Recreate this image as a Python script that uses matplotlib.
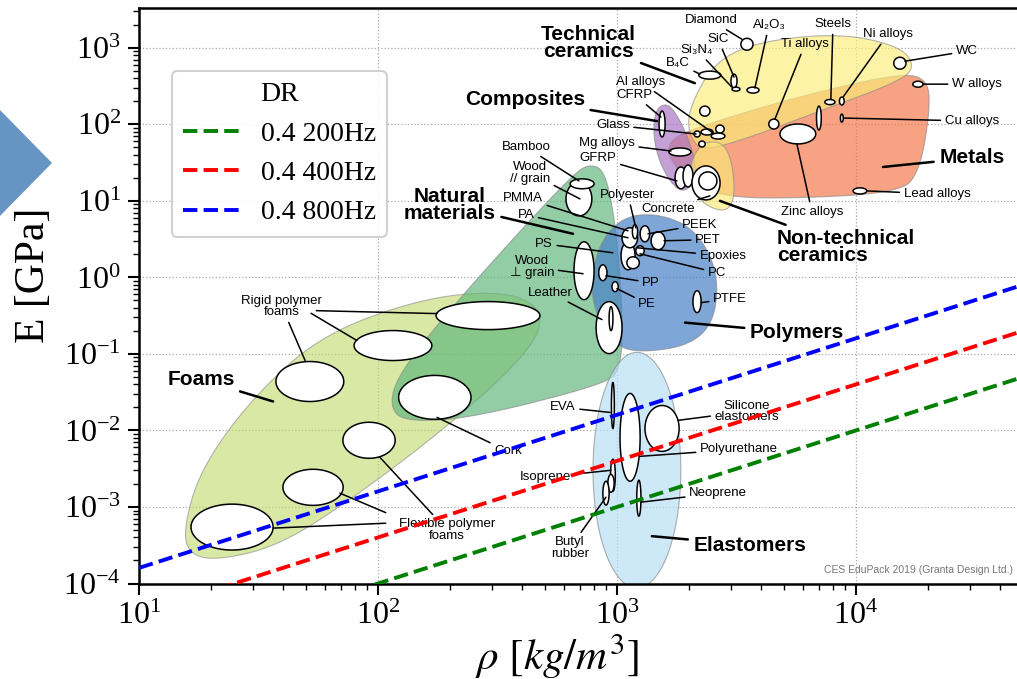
import numpy as np
import matplotlib.pyplot as plt
from matplotlib.patches import Polygon

plt.rcParams['font.family'] = 'serif'
plt.rcParams['font.serif'] = ['Liberation Serif', 'DejaVu Serif']
plt.rcParams['mathtext.fontset'] = 'stix'

SANS = ['Liberation Sans', 'DejaVu Sans']

# design-rule lines  E = k * rho   (E in GPa, rho in kg/m^3)
dr_labels = ['0.4 200Hz', '0.4 400Hz', '0.4 800Hz']
dr_k = [1.0e-6, 4.0e-6, 1.6e-5]
dr_colors = ['g', 'r', 'b']
rho_span = [10.0, 5.0e4]

# material family envelopes, vertices as (rho, E)
foams_env = [(15.3, 4.99e-4), (18.0, 3.02e-3), (29.1, 0.0247), (57.1, 0.174),
             (150, 0.527), (324, 0.671), (476, 0.428), (476, 0.174),
             (324, 0.045), (165, 7.43e-3), (76.4, 1.23e-3), (38.9, 3.18e-4),
             (21.8, 2.02e-4), (16.3, 2.35e-4)]
natural_env = [(771, 30.3), (891, 24.6), (982, 5.48), (1050, 0.497),
               (1050, 0.0608), (849, 0.0387), (243, 0.0144), (130, 0.0130),
               (112, 0.0200), (120, 0.050), (182, 0.272), (393, 4.06), (667, 23.2)]
polymers_env = [(849, 3.01), (1080, 6.37), (1510, 6.76), (2120, 4.31),
                (2650, 1.22), (2570, 0.272), (2020, 0.129), (1250, 0.104),
                (982, 0.129), (834, 0.272), (771, 0.780)]
metals_env = [(1630, 60.5), (2220, 95.1), (5830, 234), (15300, 467),
              (20000, 390), (20400, 149), (18500, 24.6), (15300, 12.7),
              (4810, 10.6), (2700, 11.6), (2020, 18.2), (1670, 33.3)]
techcer_env = [(2020, 173), (2570, 668), (3960, 1220), (8570, 1550),
               (15300, 1050), (17700, 575), (15300, 367), (7060, 149),
               (3270, 60.5), (2220, 44.9), (1980, 81.8)]
composites_env = [(1440, 149), (1590, 190), (1750, 149), (2020, 60.5),
                  (2160, 24.6), (2020, 14.3), (1800, 13.5), (1560, 24.6),
                  (1420, 60.5)]
nontech_env = [(2220, 57.0), (2750, 60.5), (3030, 33.3), (3120, 11.6),
               (2910, 7.41), (2500, 7.87), (2120, 11.6), (1980, 24.6)]
elastomers_env = (794, 1850, 8.7e-5, 0.105)

# individual materials: (rho_lo, rho_hi, E_lo, E_hi)
foam_bubbles = [(175, 476, 0.208, 0.483), (79.4, 168, 0.082, 0.202),
                (37.4, 71.9, 0.0239, 0.0796), (122, 245, 0.0140, 0.0524),
                (71.3, 118, 0.00433, 0.0128), (40.0, 71.5, 0.00105, 0.00311),
                (16.5, 36.4, 2.74e-4, 1.09e-3)]
natural_bubbles = [(612, 785, 6.37, 17.7), (637, 802, 14.4, 19.4),
                   (661, 802, 0.512, 2.92), (818, 1050, 0.101, 0.482),
                   (927, 962, 0.202, 0.415)]
polymer_bubbles = [(839, 908, 0.906, 1.46), (953, 1012, 0.652, 0.879),
                   (2080, 2250, 0.347, 0.670), (1040, 1190, 1.26, 2.92),
                   (1050, 1220, 2.44, 4.45), (1250, 1370, 2.92, 4.72),
                   (1390, 1590, 2.30, 3.94), (1100, 1240, 1.30, 1.86),
                   (1200, 1300, 1.92, 2.59), (1160, 1220, 3.2, 4.9)]
composite_bubbles = [(1500, 1590, 68.4, 149), (1750, 1960, 14.4, 27.7),
                     (1890, 2080, 15.2, 29.4)]
nontech_bubbles = [(2060, 2700, 10.3, 28.6), (2200, 2620, 13.9, 23.9),
                   (2100, 2230, 68.4, 81.8), (2200, 2340, 50.6, 60.5)]
metal_bubbles = [(1650, 2040, 38.6, 49.1), (2250, 2520, 72.6, 86.9),
                 (2590, 2810, 77.1, 97.9), (2480, 2830, 64.3, 76.9),
                 (4320, 4760, 86.9, 117), (7410, 8170, 181, 211),
                 (8530, 8930, 179, 227), (6840, 7160, 84.3, 173),
                 (8610, 8850, 107, 136), (4810, 6790, 55.5, 101),
                 (9730, 11100, 12.3, 14.8), (17300, 19100, 306, 366)]
ceramic_bubbles = [(3300, 3710, 931, 1330), (14400, 16200, 526, 753),
                   (2200, 2720, 390, 495), (3000, 3180, 298, 453),
                   (3030, 3270, 272, 306), (3500, 3930, 256, 306),
                   (2220, 2450, 128, 173)]
elastomer_bubbles = [(948, 975, 0.0106, 0.0424), (1030, 1250, 0.00217, 0.0305),
                     (1310, 1820, 0.00533, 0.0212), (940, 984, 0.00161, 0.00421),
                     (916, 973, 0.00156, 0.00267), (873, 927, 0.00106, 0.00217),
                     (1210, 1260, 7.59e-4, 0.00224)]

# label layout in decades: text, text position, leader end
small_labels = [
    ('Diamond', 3.393, 3.360, 3.523, 3.112),
    ('Al₂O₃', 3.636, 3.295, 3.577, 2.473),
    ('SiC', 3.423, 3.112, 3.490, 2.617),
    ('Si₃N₄', 3.335, 2.969, 3.481, 2.486),
    ('B₄C', 3.255, 2.799, 3.347, 2.656),
    ('Ti alloys', 3.787, 3.047, 3.661, 2.069),
    ('Steels', 3.904, 3.308, 3.895, 2.330),
    ('Ni alloys', 4.134, 3.177, 3.946, 2.356),
    ('WC', 4.464, 2.956, 4.205, 2.825),
    ('W alloys', 4.506, 2.525, 4.280, 2.525),
    ('Cu alloys', 4.485, 2.043, 3.950, 2.082),
    ('Lead alloys', 4.339, 1.091, 4.046, 1.130),
    ('Zinc alloys', 3.816, 0.857, 3.753, 1.743),
    ('Concrete', 3.213, 0.896, 3.389, 1.065),
    ('Al alloys', 3.100, 2.552, 3.402, 1.887),
    ('CFRP', 3.075, 2.382, 3.184, 2.095),
    ('Glass', 2.983, 1.991, 3.331, 1.874),
    ('Mg alloys', 2.958, 1.756, 3.226, 1.652),
    ('GFRP', 2.921, 1.561, 3.251, 1.261),
    ('Bamboo', 2.619, 1.704, 2.841, 1.261),
    ('Wood\n// grain', 2.636, 1.365, 2.845, 1.026),
    ('PMMA', 2.607, 1.039, 3.046, 0.609),
    ('PA', 2.619, 0.817, 3.046, 0.518),
    ('Polyester', 3.046, 1.078, 3.079, 0.648),
    ('PEEK', 3.347, 0.687, 3.130, 0.570),
    ('PET', 3.381, 0.492, 3.197, 0.479),
    ('Epoxies', 3.444, 0.283, 3.084, 0.387),
    ('PS', 2.695, 0.439, 2.983, 0.322),
    ('PC', 3.418, 0.061, 3.096, 0.309),
    ('Wood\n⊥ grain', 2.644, 0.140, 2.858, 0.048),
    ('PP', 3.142, -0.069, 2.954, 0.022),
    ('PE', 3.126, -0.343, 3.000, -0.147),
    ('PTFE', 3.473, -0.278, 3.351, -0.330),
    ('Leather', 2.720, -0.199, 2.937, -0.551),
    ('Rigid polymer\nfoams', 1.598, -0.382, 1.695, -1.086),
    ('Cork', 2.544, -2.272, 2.247, -1.829),
    ('Flexible polymer\nfoams', 2.289, -3.302, 2.008, -2.351),
    ('EVA', 2.774, -1.699, 2.971, -1.764),
    ('Silicone\nelastomers', 3.544, -1.751, 3.255, -1.868),
    ('Polyurethane', 3.510, -2.246, 3.096, -2.338),
    ('Isoprene', 2.699, -2.611, 2.975, -2.520),
    ('Neoprene', 3.423, -2.820, 3.100, -2.937),
    ('Butyl\nrubber', 2.803, -3.537, 2.954, -2.872),
]
extra_leaders = [(1.736, -0.434, 2.247, -0.473), (1.715, -0.460, 1.912, -0.825),
                 (2.038, -3.211, 1.561, -3.276), (2.038, -3.081, 1.841, -2.820)]
family_labels = [
    ('Technical\nceramics', 2.879, 3.060, 3.326, 2.538),
    ('Composites', 2.615, 2.330, 3.167, 2.043),
    ('Metals', 4.485, 1.561, 4.113, 1.443),
    ('Natural\nmaterials', 2.301, 0.948, 2.816, 0.570),
    ('Non-technical\nceramics', 3.958, 0.400, 3.431, 1.000),
    ('Polymers', 3.753, -0.721, 3.285, -0.591),
    ('Foams', 1.259, -1.334, 1.561, -1.621),
    ('Elastomers', 3.556, -3.498, 3.146, -3.381),
]

fig = plt.figure(figsize=(10.17, 6.79), dpi=100)
ax = fig.add_axes([0.1367, 0.1406, 0.8633, 0.8476])
ax.set_xscale('log')
ax.set_yscale('log')
ax.set_xlim(10, 10 ** 4.674)
ax.set_ylim(1e-4, 10 ** 3.52)

t = np.linspace(0, 2 * np.pi, 120)


def smooth_closed(lx, ly, passes=4):
    pts = np.column_stack([lx, ly])
    for _ in range(passes):
        nxt = np.roll(pts, -1, axis=0)
        new = np.empty((2 * len(pts), 2))
        new[0::2] = 0.75 * pts + 0.25 * nxt
        new[1::2] = 0.25 * pts + 0.75 * nxt
        pts = new
    return pts


def draw_envelope(vertices, face, alpha=0.7):
    rho, E = np.array(vertices, dtype=float).T
    pts = smooth_closed(np.log10(rho), np.log10(E))
    ax.fill(10 ** pts[:, 0], 10 ** pts[:, 1], facecolor=face, edgecolor='#8c8c8c',
            lw=0.8, alpha=alpha, zorder=1)


def ellipse_xy(r_lo, r_hi, e_lo, e_hi):
    lr0, lr1, le0, le1 = np.log10([r_lo, r_hi, e_lo, e_hi])
    x = (lr0 + lr1) / 2 + (lr1 - lr0) / 2 * np.cos(t)
    y = (le0 + le1) / 2 + (le1 - le0) / 2 * np.sin(t)
    return 10 ** x, 10 ** y


def draw_bubbles(bubbles):
    for b in bubbles:
        x, y = ellipse_xy(*b)
        ax.fill(x, y, facecolor='white', edgecolor='black', lw=1.1, zorder=3)


ax.grid(True, which='major', ls=':', color='#aaaaaa', lw=0.9)
ax.set_axisbelow(True)

draw_envelope(foams_env, '#c4da6e', 0.62)
draw_envelope(natural_env, '#5fb67c', 0.68)
draw_envelope(polymers_env, '#4780c7', 0.70)
ex, ey = ellipse_xy(*elastomers_env)
ax.fill(ex, ey, facecolor='#b9e0f6', edgecolor='#8c8c8c', lw=0.8, alpha=0.7, zorder=1)
draw_envelope(metals_env, '#f27748', 0.68)
draw_envelope(techcer_env, '#fcee79', 0.65)
draw_envelope(composites_env, '#ab78c5', 0.70)
draw_envelope(nontech_env, '#fbe977', 0.65)

for group in [foam_bubbles, natural_bubbles, polymer_bubbles, composite_bubbles,
              nontech_bubbles, metal_bubbles, ceramic_bubbles, elastomer_bubbles]:
    draw_bubbles(group)

leader = dict(arrowstyle='-', color='black', lw=1.1, shrinkA=1, shrinkB=0)
for txt, x, y, tx, ty in small_labels:
    ax.annotate(txt, xy=(10 ** tx, 10 ** ty), xytext=(10 ** x, 10 ** y),
                ha='center', va='center', fontsize=9.5, family=SANS,
                linespacing=0.95, arrowprops=leader, zorder=4)
for x, y, tx, ty in extra_leaders:
    ax.annotate('', xy=(10 ** tx, 10 ** ty), xytext=(10 ** x, 10 ** y),
                arrowprops=leader, zorder=4)
for txt, x, y, tx, ty in family_labels:
    ax.annotate(txt, xy=(10 ** tx, 10 ** ty), xytext=(10 ** x, 10 ** y),
                ha='center', va='center', multialignment='left' if txt.startswith('Non') else 'center',
                fontsize=15, fontweight='bold', family=SANS, linespacing=0.9,
                arrowprops=dict(arrowstyle='-', color='black', lw=1.8, shrinkA=2, shrinkB=0),
                zorder=4)

ax.text(0.995, 0.023, 'CES EduPack 2019 (Granta Design Ltd.)', transform=ax.transAxes,
        ha='right', va='center', fontsize=7.5, color='#777777', family=SANS, zorder=4)

rho = np.array(rho_span)
for k, lab, c in zip(dr_k, dr_labels, dr_colors):
    ax.plot(rho, k * rho, ls='--', color=c, lw=2.8, label=lab, zorder=5)

leg = ax.legend(title='DR', loc='upper left', bbox_to_anchor=(0.169, 0.895),
                bbox_transform=fig.transFigure, fontsize=20, title_fontsize=20,
                handlelength=2.0, borderaxespad=0, framealpha=0.9, edgecolor='#cccccc')
leg.get_frame().set_linewidth(1.5)
leg.set_zorder(6)

for side in ['left', 'bottom', 'top']:
    ax.spines[side].set_linewidth(1.8)
ax.spines['right'].set_visible(False)
ax.tick_params(which='major', length=8, width=1.5, labelsize=23, pad=5)
ax.tick_params(which='minor', length=4, width=1.0)

ax.set_xlabel(r'$\rho\ [kg/m^3]$', fontsize=31)
ax.set_ylabel('E [GPa]', fontsize=30)
ax.xaxis.set_label_coords(0.476, -0.083)
ax.yaxis.set_label_coords(-0.098, 0.536)

# arrow marker on the left margin
fig.patches.append(Polygon([(0, 0.838), (0.0511, 0.760), (0, 0.682)], closed=True,
                           transform=fig.transFigure, facecolor='#6795c3',
                           edgecolor='none', figure=fig))

fig.savefig('out.png', dpi=100)
